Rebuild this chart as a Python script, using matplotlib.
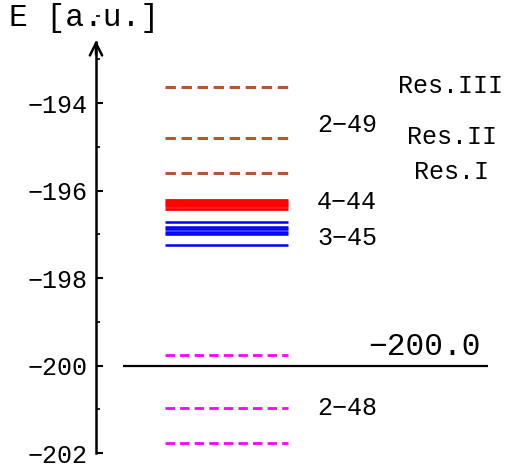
import matplotlib
matplotlib.use('Agg')
import matplotlib.pyplot as plt
from matplotlib.ticker import MultipleLocator

# energy levels [a.u.]
res_levels = [-193.63, -194.79, -195.59]
res_labels = ['Res.III', 'Res.II', 'Res.I']
red_levels = [-196.21, -196.26, -196.31, -196.35, -196.42]
blue_levels = [-196.72, -196.83, -196.88, -196.95, -196.99, -197.23]
mag_levels = [-199.76, -200.96, -201.76]
threshold = -200.0
group_labels = ['2−49', '4−44', '3−45', '2−48']
group_label_E = [-194.5, -196.26, -197.08, -200.96]
major_ticks = [-194, -196, -198, -200, -202]

plt.rcParams['font.family'] = ['Liberation Mono', 'DejaVu Sans']

fig = plt.figure(figsize=(5.05, 4.65), dpi=100)
ax = fig.add_axes([0, 0, 1, 1])

# pixel-like x range, y range chosen so ticks land where they should
ax.set_xlim(0, 505)
ax.set_ylim(-202.27, -191.64)

x0, x1 = 165, 288
dash = (0, (3.4, 1.85))

ax.hlines(res_levels, x0, x1, colors='#B8552B', linewidth=2.2, linestyles=[dash])
ax.hlines(red_levels, x0, x1, colors='#FF0000', linewidth=2.0)
ax.hlines(blue_levels, x0, x1, colors='#0000FF', linewidth=1.8)
ax.hlines(mag_levels, x0, x1, colors='#FF00FF', linewidth=2.0, linestyles=[dash])
ax.hlines([threshold], 123, 488, colors='black', linewidth=1.6)

# axis with arrow
for s in ['top', 'right', 'bottom']:
    ax.spines[s].set_visible(False)
ax.spines['left'].set_position(('data', 96))
ax.spines['left'].set_bounds(-202.0, -192.6)
ax.spines['left'].set_linewidth(1.8)
ax.set_xticks([])
ax.set_yticks(major_ticks)
ax.set_yticklabels([f'−{abs(t)}' for t in major_ticks], fontsize=18)
ax.yaxis.set_minor_locator(MultipleLocator(1))
ax.tick_params(axis='y', which='major', direction='in', length=5, width=1.5, pad=6)
ax.tick_params(axis='y', which='minor', direction='in', length=3, width=1.2)
ax.annotate('', xy=(96, -192.5), xytext=(96, -192.95),
            arrowprops=dict(arrowstyle='->', lw=1.8, color='black',
                            mutation_scale=22))

ax.text(9, -192.05, 'E [a.u.]', fontsize=22.5, va='center', ha='left')

for lab, e in zip(group_labels, group_label_E):
    ax.text(317, e, lab, fontsize=18, va='center', ha='left')

res_x = [451, 452, 452]
for lab, e, x in zip(res_labels, res_levels, res_x):
    ax.text(x, e + 0.02, lab, fontsize=18, va='center', ha='center')

ax.text(481, threshold + 0.08, '−200.0', fontsize=22.5, va='bottom', ha='right')

fig.savefig('out.png', dpi=100, facecolor='white')
